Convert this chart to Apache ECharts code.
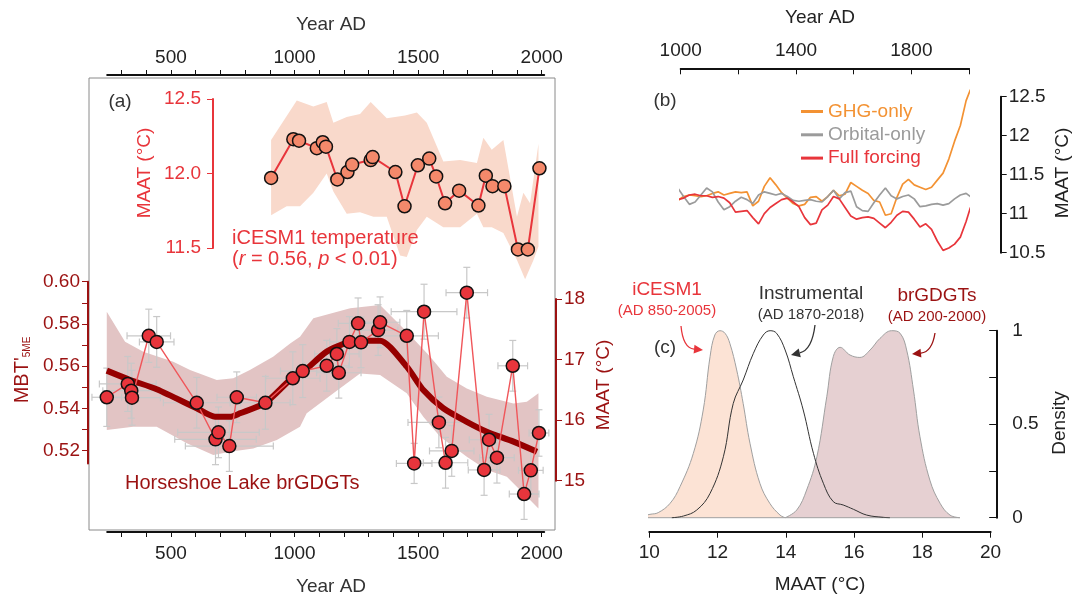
<!DOCTYPE html>
<html>
<head>
<meta charset="utf-8">
<title>Horseshoe Lake brGDGTs vs iCESM1</title>
<script src="https://cdn.jsdelivr.net/npm/echarts@6.0.0/dist/echarts.min.js"></script>
<style>
  html, body { margin: 0; padding: 0; background: #fff; }
  #chart { width: 1075px; height: 598px; }
</style>
</head>
<body>
<div id="chart"></div>
<script>
// ---- (a) iCESM1 temperature ----
const icYears = [905, 995, 1018, 1090, 1114, 1127, 1173, 1214, 1233, 1308, 1316, 1408, 1445, 1499, 1545, 1573, 1609, 1666, 1744, 1774, 1801, 1849, 1904, 1944, 1991]
const icVals = [11.97, 12.23, 12.22, 12.17, 12.21, 12.18, 11.96, 12.01, 12.06, 12.09, 12.11, 12.01, 11.78, 12.055, 12.10, 11.98, 11.80, 11.885, 11.785, 11.985, 11.915, 11.915, 11.49, 11.49, 12.035]
const icUpYears = [905, 1009, 1076, 1130, 1157, 1211, 1265, 1308, 1373, 1447, 1495, 1535, 1602, 1670, 1738, 1764, 1798, 1845, 1900, 1926, 1953, 1987]
const icUpVals = [12.225, 12.49, 12.45, 12.48, 12.34, 12.38, 12.40, 12.48, 12.37, 12.39, 12.41, 12.34, 12.08, 12.09, 12.07, 12.24, 12.16, 12.225, 11.71, 11.87, 11.80, 12.20]
const icLoYears = [905, 968, 1022, 1076, 1130, 1157, 1211, 1265, 1319, 1373, 1427, 1454, 1495, 1535, 1602, 1670, 1738, 1764, 1798, 1845, 1900, 1933, 1967, 1987]
const icLoVals = [11.72, 11.78, 11.78, 11.87, 12.00, 11.88, 11.73, 11.74, 11.71, 11.71, 11.45, 11.44, 11.62, 11.71, 11.64, 11.64, 11.73, 11.64, 11.64, 11.60, 11.42, 11.29, 11.42, 11.51]

// ---- (a) Horseshoe Lake brGDGTs (MBT'5ME) ----
const brYears = [240, 325, 339, 342, 410, 442, 604, 680, 692, 736, 766, 882, 993, 1033, 1130, 1171, 1179, 1222, 1257, 1269, 1338, 1346, 1454, 1484, 1524, 1584, 1611, 1636, 1697, 1767, 1787, 1819, 1883, 1929, 1956, 1989]
const brVals = [0.5453, 0.5516, 0.5484, 0.5451, 0.5744, 0.5715, 0.5427, 0.5254, 0.5287, 0.5222, 0.5453, 0.5427, 0.5543, 0.5577, 0.5602, 0.5658, 0.5569, 0.5715, 0.5803, 0.5713, 0.5771, 0.5808, 0.5744, 0.5140, 0.5858, 0.5334, 0.5143, 0.5199, 0.5948, 0.5109, 0.5252, 0.5167, 0.5602, 0.4995, 0.5107, 0.5284]
const brAgeErr = [60, 115, 115, 115, 88, 70, 135, 165, 165, 178, 80, 100, 110, 90, 90, 90, 90, 80, 80, 80, 80, 80, 128, 72, 133, 125, 90, 90, 84, 64, 80, 70, 60, 60, 50, 40]
const brMbtErr = [0.0138, 0.013, 0.013, 0.013, 0.0126, 0.012, 0.012, 0.012, 0.012, 0.012, 0.012, 0.0125, 0.0125, 0.0125, 0.012, 0.012, 0.012, 0.012, 0.012, 0.012, 0.012, 0.012, 0.012, 0.0095, 0.013, 0.012, 0.012, 0.012, 0.012, 0.012, 0.012, 0.012, 0.012, 0.012, 0.011, 0.011]
const smYears = [240, 334, 442, 604, 678, 739, 779, 882, 982, 1036, 1130, 1225, 1292, 1346, 1454, 1521, 1602, 1697, 1778, 1886, 1981]
const smVals = [0.5579, 0.5535, 0.5491, 0.5401, 0.5361, 0.5361, 0.5377, 0.5427, 0.5535, 0.5574, 0.5669, 0.5716, 0.5721, 0.5721, 0.5598, 0.5487, 0.5401, 0.5337, 0.5290, 0.5243, 0.5195]
const smUpYears = [240, 314, 388, 509, 577, 685, 752, 819, 913, 982, 1022, 1076, 1225, 1346, 1454, 1549, 1616, 1697, 1778, 1886, 1940, 1987]
const smUpVals = [0.5858, 0.5716, 0.5669, 0.5621, 0.5582, 0.5535, 0.5543, 0.5582, 0.5645, 0.5708, 0.5740, 0.5827, 0.5874, 0.5890, 0.5763, 0.5645, 0.5550, 0.5495, 0.5456, 0.5424, 0.5432, 0.5472]
const smLoYears = [240, 347, 442, 564, 671, 739, 833, 928, 1022, 1049, 1157, 1265, 1346, 1454, 1521, 1589, 1697, 1778, 1859, 1940, 1987]
const smLoVals = [0.5298, 0.5314, 0.5314, 0.5235, 0.5180, 0.5195, 0.5211, 0.5251, 0.5314, 0.5377, 0.5472, 0.5566, 0.5558, 0.5472, 0.5361, 0.5266, 0.5172, 0.5109, 0.5077, 0.4982, 0.4927]

// ---- (b) iCESM1 single forcing runs ----
const simYears = [850, 870, 890, 910, 930, 950, 970, 990, 1010, 1030, 1050, 1070, 1090, 1110, 1130, 1150, 1170, 1190, 1210, 1230, 1250, 1270, 1290, 1310, 1330, 1350, 1370, 1390, 1410, 1430, 1450, 1470, 1490, 1510, 1530, 1550, 1570, 1590, 1610, 1630, 1650, 1670, 1690, 1710, 1730, 1750, 1770, 1790, 1810, 1830, 1850, 1870, 1890, 1910, 1930, 1950, 1970, 1990, 2005]
const ghgVals = [11.30, 11.27, 11.38, 11.47, 11.47, 11.32, 11.20, 11.17, 11.22, 11.24, 11.23, 11.22, 11.23, 11.26, 11.28, 11.24, 11.26, 11.28, 11.27, 11.28, 11.10, 11.16, 11.35, 11.46, 11.37, 11.27, 11.20, 11.13, 11.10, 11.12, 11.21, 11.22, 11.16, 11.22, 11.30, 11.23, 11.25, 11.40, 11.35, 11.30, 11.26, 11.17, 11.15, 10.98, 11.00, 11.21, 11.38, 11.44, 11.37, 11.34, 11.31, 11.34, 11.43, 11.52, 11.70, 11.93, 12.13, 12.45, 12.59]
const orbVals = [11.30, 11.28, 11.23, 11.18, 11.24, 11.32, 11.39, 11.33, 11.22, 11.12, 11.15, 11.24, 11.33, 11.28, 11.15, 11.05, 11.09, 11.16, 11.21, 11.18, 11.13, 11.24, 11.28, 11.26, 11.24, 11.26, 11.22, 11.17, 11.16, 11.17, 11.18, 11.16, 11.15, 11.22, 11.30, 11.19, 11.27, 11.29, 11.09, 11.04, 11.03, 11.14, 11.24, 11.33, 11.23, 11.19, 11.22, 11.24, 11.19, 11.09, 11.10, 11.12, 11.13, 11.11, 11.13, 11.19, 11.24, 11.26, 11.22]
const fullVals = [11.05, 11.05, 11.08, 11.13, 11.18, 11.22, 11.20, 11.18, 11.20, 11.24, 11.25, 11.23, 11.23, 11.21, 11.22, 11.20, 11.14, 11.02, 11.03, 11.04, 10.95, 10.87, 11.00, 11.08, 11.13, 11.18, 11.20, 11.15, 11.09, 10.95, 10.86, 10.88, 11.05, 11.11, 11.22, 11.19, 11.08, 10.97, 10.93, 10.95, 10.96, 10.94, 10.88, 10.82, 10.89, 10.98, 11.03, 11.02, 10.93, 10.83, 10.87, 10.80, 10.65, 10.53, 10.56, 10.61, 10.70, 10.90, 11.08]

// ---- (c) density of MAAT ----
const kdeIcT = [9.58, 10.02, 10.26, 10.61, 10.90, 11.29, 11.58, 11.78, 11.92, 12.07, 12.22, 12.36, 12.56, 12.75, 12.95, 13.24, 13.53, 13.83, 13.98]
const kdeIcD = [0, 0.018, 0.027, 0.077, 0.166, 0.344, 0.576, 0.861, 0.977, 1.0, 0.986, 0.932, 0.790, 0.611, 0.398, 0.184, 0.077, 0.014, 0]
const kdeInT = [10.66, 11.00, 11.39, 11.78, 12.17, 12.46, 12.75, 13.05, 13.34, 13.54, 13.73, 13.98, 14.22, 14.51, 14.81, 15.10, 15.39, 15.68, 15.98, 16.37, 16.86, 17.05]
const kdeInD = [0, 0.009, 0.041, 0.130, 0.326, 0.611, 0.736, 0.879, 0.977, 1.0, 0.986, 0.897, 0.754, 0.576, 0.344, 0.184, 0.086, 0.068, 0.045, 0.014, 0.002, 0]
const kdeBrT = [13.98, 14.32, 14.61, 14.91, 15.20, 15.39, 15.59, 15.88, 16.17, 16.47, 16.76, 17.10, 17.35, 17.54, 17.74, 17.93, 18.22, 18.52, 18.81, 19.10]
const kdeBrD = [0, 0.041, 0.148, 0.326, 0.647, 0.861, 0.911, 0.870, 0.857, 0.897, 0.959, 1.0, 0.986, 0.897, 0.683, 0.433, 0.201, 0.077, 0.014, 0]

// tick labels
const yearTicksA = [300, 400, 500, 600, 700, 800, 900, 1000, 1100, 1200, 1300, 1400, 1500, 1600, 1700, 1800, 1900, 2000]
const yearLabelsA = [500, 1000, 1500, 2000]
const mbtTicks = [0.52, 0.53, 0.54, 0.55, 0.56, 0.57, 0.58, 0.59, 0.60]
const mbtLabels = [0.52, 0.54, 0.56, 0.58, 0.60]
const yearTicksB = [1000, 1200, 1400, 1600, 1800, 2000]
const yearLabelsB = [1000, 1400, 1800]
const densLabels = [0, 0.5, 1]

const FONT = '"Liberation Sans", Arial, sans-serif'
const RED = "#e8353b"
const DARK = "#9b1212"
const INK = "#222"

const zip = (a, b) => a.map((v, i) => [v, b[i]])
const plain = v => String(v)

const myChart = echarts.init(document.getElementById("chart"))

// axis helpers
function hiddenAxis(grid, min, max) {
  return { gridIndex: grid, type: "value", min: min, max: max, show: false }
}
function lbl(color, margin, extra) {
  return Object.assign({ color: color, fontSize: 19, fontFamily: FONT, margin: margin, formatter: plain }, extra || {})
}
function line(color) {
  return { show: true, onZero: false, lineStyle: { color: color, width: 2 } }
}

// band polygon drawn through the axis scales
function bandSeries(xi, yi, upX, upY, loX, loY, fill) {
  return {
    type: "custom",
    xAxisIndex: xi,
    yAxisIndex: yi,
    silent: true,
    data: [[upX[0], upY[0]]],
    renderItem: function (params, api) {
      const up = zip(upX, upY).map(p => api.coord(p))
      const lo = zip(loX, loY).map(p => api.coord(p)).reverse()
      return { type: "polygon", shape: { points: up.concat(lo) }, style: { fill: fill } }
    }
  }
}

// text helpers
function txt(x, y, text, color, size, align, rot) {
  return {
    type: "text", x: x, y: y, rotation: rot || 0, z: 10,
    style: { text: text, fill: color, fontSize: size, fontFamily: FONT, align: align || "center", verticalAlign: "middle" }
  }
}
function arrow(x0, y0, cx, cy, x1, y1, color) {
  const ang = Math.atan2(y1 - cy, x1 - cx)
  const L = 9, W = 4.5
  const bx = x1 - L * Math.cos(ang), by = y1 - L * Math.sin(ang)
  const px = -Math.sin(ang) * W, py = Math.cos(ang) * W
  return [
    { type: "bezierCurve", z: 10, shape: { x1: x0, y1: y0, cpx1: cx, cpy1: cy, x2: bx, y2: by }, style: { stroke: color, lineWidth: 1.3, fill: null } },
    { type: "polygon", z: 10, shape: { points: [[x1, y1], [bx + px, by + py], [bx - px, by - py]] }, style: { fill: color } }
  ]
}

const option = {
  animation: false,
  backgroundColor: "#fff",
  grid: [
    { left: 88, top: 99, width: 468, height: 149, outerBoundsMode: "none" },     // (a) iCESM1
    { left: 88, top: 281.7, width: 468, height: 181.7, outerBoundsMode: "none" }, // (a) MBT'5ME
    { left: 88, top: 299, width: 468, height: 181.7, outerBoundsMode: "none" },   // (a) MAAT right axis
    { left: 107.2, top: 75, width: 437, height: 457, outerBoundsMode: "none" },   // (a) year axes
    { left: 680.7, top: 96.7, width: 288.3, height: 156, outerBoundsMode: "none" }, // (b)
    { left: 649.3, top: 330.7, width: 341.3, height: 187, outerBoundsMode: "none" } // (c)
  ],
  xAxis: [
    hiddenAxis(0, 164, 2058),
    hiddenAxis(1, 164, 2058),
    hiddenAxis(2, 164, 2058),
    {
      gridIndex: 3, type: "value", min: 242, max: 2010, position: "top",
      axisLine: line("#111"),
      axisTick: { customValues: yearTicksA, length: 5, lineStyle: { color: "#111" } },
      axisLabel: lbl(INK, 8, { customValues: yearLabelsA }),
      splitLine: { show: false }
    },
    {
      gridIndex: 3, type: "value", min: 242, max: 2010, position: "bottom",
      axisLine: line("#111"),
      axisTick: { customValues: yearTicksA, length: 5, lineStyle: { color: "#111" } },
      axisLabel: lbl(INK, 12, { customValues: yearLabelsA }),
      splitLine: { show: false }
    },
    {
      gridIndex: 4, type: "value", min: 1000, max: 2000, position: "top", offset: 28.4,
      axisLine: line("#111"),
      axisTick: { inside: true, customValues: yearTicksB, length: 6, lineStyle: { color: "#111" } },
      axisLabel: lbl(INK, 8, { customValues: yearLabelsB }),
      splitLine: { show: false }
    },
    {
      gridIndex: 5, type: "value", min: 10, max: 20, interval: 2, position: "bottom", offset: 14,
      axisLine: line("#111"),
      axisTick: { length: 6, lineStyle: { color: "#111" } },
      axisLabel: lbl(INK, 12),
      splitLine: { show: false }
    }
  ],
  yAxis: [
    {
      gridIndex: 0, type: "value", min: 11.5, max: 12.5, interval: 0.5, position: "left", offset: -125,
      axisLine: line(RED),
      axisTick: { show: true, length: 6, lineStyle: { color: RED } },
      axisLabel: lbl(RED, 12, { formatter: v => v.toFixed(1) }),
      splitLine: { show: false }
    },
    {
      gridIndex: 1, type: "value", min: 0.514, max: 0.60, position: "left",
      axisLine: line(DARK),
      axisTick: { show: true, customValues: mbtTicks, length: 6, lineStyle: { color: DARK } },
      axisLabel: lbl(DARK, 8, { customValues: mbtLabels, formatter: v => v.toFixed(2) }),
      splitLine: { show: false }
    },
    {
      gridIndex: 2, type: "value", min: 15, max: 18, interval: 1, position: "right",
      axisLine: line(DARK),
      axisTick: { show: true, length: 6, lineStyle: { color: DARK } },
      axisLabel: lbl(DARK, 8),
      splitLine: { show: false }
    },
    { gridIndex: 3, type: "value", min: 0, max: 1, show: false },
    {
      gridIndex: 4, type: "value", min: 10.5, max: 12.5, interval: 0.5, position: "right", offset: 31.7,
      axisLine: line("#111"),
      axisTick: { show: true, length: 6, lineStyle: { color: "#111" } },
      axisLabel: lbl(INK, 8, { formatter: v => (v % 1 === 0 ? String(v) : v.toFixed(1)) }),
      splitLine: { show: false }
    },
    {
      gridIndex: 5, type: "value", min: 0, max: 1, interval: 0.25, position: "right", offset: 6.6,
      axisLine: line("#111"),
      axisTick: { show: true, inside: true, length: 8, lineStyle: { color: "#111" } },
      axisLabel: lbl(INK, 15, { customValues: densLabels }),
      splitLine: { show: false }
    }
  ],
  legend: {
    left: 796, top: 96.5, orient: "vertical",
    icon: "rect", itemWidth: 22, itemHeight: 3, itemGap: 3.3,
    textStyle: { fontSize: 19, fontFamily: FONT, lineHeight: 20 },
    selectedMode: false,
    data: [
      { name: "GHG-only", textStyle: { color: "#f39233" } },
      { name: "Orbital-only", textStyle: { color: "#9b9b9b" } },
      { name: "Full forcing", textStyle: { color: RED } }
    ]
  },
  series: [
    // (a) iCESM1 band + series
    bandSeries(0, 0, icUpYears, icUpVals, icLoYears, icLoVals, "#f9d9cb"),
    {
      name: "iCESM1 temperature", type: "line", xAxisIndex: 0, yAxisIndex: 0, clip: false,
      data: zip(icYears, icVals),
      symbol: "circle", symbolSize: 13,
      lineStyle: { color: RED, width: 2 },
      itemStyle: { color: "#f4896b", borderColor: "#111", borderWidth: 1.5 }
    },
    // (a) brGDGT band, error bars, smooth curve, samples
    bandSeries(1, 1, smUpYears, smUpVals, smLoYears, smLoVals, "#e2c4c4"),
    {
      type: "custom", xAxisIndex: 1, yAxisIndex: 1, silent: true,
      data: brYears.map((y, i) => [y, brVals[i], brAgeErr[i], brMbtErr[i]]),
      renderItem: function (params, api) {
        const x = api.value(0), v = api.value(1), dx = api.value(2), dv = api.value(3)
        const l = api.coord([x - dx, v]), r = api.coord([x + dx, v])
        const t = api.coord([x, v + dv]), b = api.coord([x, v - dv])
        const s = { stroke: "#c8c8c8", lineWidth: 1.2 }
        const c = 3.5
        return {
          type: "group",
          children: [
            { type: "line", shape: { x1: l[0], y1: l[1], x2: r[0], y2: r[1] }, style: s },
            { type: "line", shape: { x1: l[0], y1: l[1] - c, x2: l[0], y2: l[1] + c }, style: s },
            { type: "line", shape: { x1: r[0], y1: r[1] - c, x2: r[0], y2: r[1] + c }, style: s },
            { type: "line", shape: { x1: t[0], y1: t[1], x2: b[0], y2: b[1] }, style: s },
            { type: "line", shape: { x1: t[0] - c, y1: t[1], x2: t[0] + c, y2: t[1] }, style: s },
            { type: "line", shape: { x1: b[0] - c, y1: b[1], x2: b[0] + c, y2: b[1] }, style: s }
          ]
        }
      }
    },
    {
      type: "line", xAxisIndex: 1, yAxisIndex: 1, clip: false, smooth: 0.25,
      data: zip(smYears, smVals), symbol: "none",
      lineStyle: { color: "#960000", width: 6 }
    },
    {
      name: "Horseshoe Lake brGDGTs", type: "line", xAxisIndex: 1, yAxisIndex: 1, clip: false,
      data: zip(brYears, brVals),
      symbol: "circle", symbolSize: 13,
      lineStyle: { color: "#f0565a", width: 1.4 },
      itemStyle: { color: "#e8353c", borderColor: "#111", borderWidth: 1.5 }
    },
    // (b)
    {
      name: "GHG-only", type: "line", xAxisIndex: 5, yAxisIndex: 4, clip: false, symbol: "none",
      data: zip(simYears, ghgVals), color: "#f39233", lineStyle: { color: "#f39233", width: 1.7 }
    },
    {
      name: "Orbital-only", type: "line", xAxisIndex: 5, yAxisIndex: 4, clip: false, symbol: "none",
      data: zip(simYears, orbVals), color: "#9b9b9b", lineStyle: { color: "#9b9b9b", width: 1.7 }
    },
    {
      name: "Full forcing", type: "line", xAxisIndex: 5, yAxisIndex: 4, clip: false, symbol: "none",
      data: zip(simYears, fullVals), color: RED, lineStyle: { color: RED, width: 1.7 }
    },
    // (c)
    {
      type: "line", xAxisIndex: 6, yAxisIndex: 5, clip: false, symbol: "none", smooth: 0.4,
      data: zip(kdeIcT, kdeIcD),
      lineStyle: { color: "#a0a0a0", width: 1 }, areaStyle: { color: "#fce3d5", opacity: 1 }
    },
    {
      type: "line", xAxisIndex: 6, yAxisIndex: 5, clip: false, symbol: "none", smooth: 0.4,
      data: zip(kdeBrT, kdeBrD),
      lineStyle: { color: "#a0a0a0", width: 1 }, areaStyle: { color: "#e6d0d2", opacity: 1 }
    },
    {
      type: "line", xAxisIndex: 6, yAxisIndex: 5, clip: false, symbol: "none",
      data: [[kdeIcT[0], 0], [kdeBrT[kdeBrT.length - 1], 0]],
      lineStyle: { color: "#a0a0a0", width: 1 }
    },
    {
      type: "line", xAxisIndex: 6, yAxisIndex: 5, clip: false, symbol: "none", smooth: 0.4,
      data: zip(kdeInT, kdeInD),
      lineStyle: { color: "#333", width: 1 }
    }
  ],
  graphic: [
    { type: "rect", z: 0, shape: { x: 89, y: 78, width: 466, height: 452 }, style: { fill: null, stroke: "#8a8a8a", lineWidth: 1 } },
    // (a)
    txt(331, 25, "Year AD", "#333", 19),
    txt(331, 587, "Year AD", "#333", 19),
    txt(120, 102, "(a)", "#333", 19),
    txt(145, 173, "MAAT (°C)", RED, 19, "center", Math.PI / 2),
    txt(232, 238, "iCESM1 temperature", RED, 20, "left"),
    {
      type: "text", x: 232, y: 259, z: 10,
      style: {
        text: "({i|r} = 0.56, {i|p} < 0.01)", fill: RED, fontSize: 20, fontFamily: FONT,
        align: "left", verticalAlign: "middle",
        rich: { i: { fontStyle: "italic", fontSize: 20, fontFamily: FONT, fill: RED } }
      }
    },
    {
      type: "text", x: 22, y: 370, z: 10, rotation: Math.PI / 2,
      style: {
        text: "{a|MBT'}{s|5ME}", fill: DARK, fontSize: 20, fontFamily: FONT,
        align: "center", verticalAlign: "middle",
        rich: {
          a: { fontSize: 20, fontFamily: FONT, fill: DARK },
          s: { fontSize: 10, fontFamily: FONT, fill: DARK, verticalAlign: "bottom" }
        }
      }
    },
    txt(604, 385, "MAAT (°C)", DARK, 19, "center", Math.PI / 2),
    txt(125, 483, "Horseshoe Lake brGDGTs", DARK, 20, "left"),
    // (b)
    txt(820, 18, "Year AD", INK, 19),
    txt(665, 101, "(b)", "#333", 19),
    txt(1063, 173, "MAAT (°C)", INK, 19, "center", Math.PI / 2),
    // (c)
    txt(665, 348, "(c)", "#333", 19),
    txt(667, 290, "iCESM1", RED, 19),
    txt(667, 311, "(AD 850-2005)", RED, 15),
    txt(811, 294, "Instrumental", "#333", 19),
    txt(811, 315, "(AD 1870-2018)", "#333", 15),
    txt(937, 296, "brGDGTs", DARK, 19),
    txt(937, 317, "(AD 200-2000)", DARK, 15),
    txt(820, 585, "MAAT (°C)", INK, 19),
    txt(1060, 423, "Density", INK, 19, "center", Math.PI / 2),
    ...arrow(681, 326, 683, 348, 703, 350, RED),
    ...arrow(815, 325, 812, 350, 791, 355, "#333"),
    ...arrow(935, 333, 932, 352, 912, 354, DARK)
  ]
}

myChart.setOption(option)

window.addEventListener("resize", function () {
  myChart.resize()
})
</script>
</body>
</html>
